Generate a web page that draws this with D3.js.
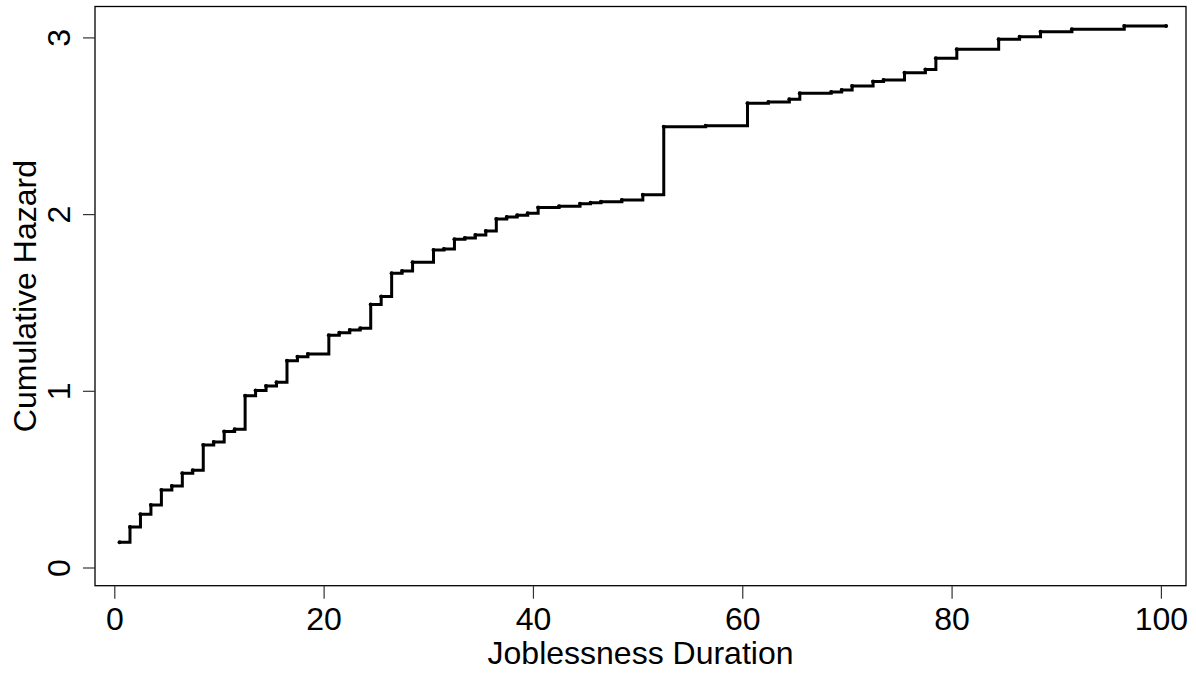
<!DOCTYPE html>
<html>
<head>
<meta charset="utf-8">
<script src="https://cdn.jsdelivr.net/npm/d3@7"></script>
<style>
  html, body { margin: 0; padding: 0; background: #fff; }
  svg { display: block; }
  text { font-family: "Liberation Sans", Arial, Helvetica, sans-serif; fill: #000; }
</style>
</head>
<body>
<svg id="chart" width="1196" height="673"></svg>
<script>
// Event times (weeks) and Nelson-Aalen cumulative hazard
const times = [0.5, 1.5, 2.5, 3.5, 4.5, 5.5, 6.5, 7.5, 8.5, 9.5, 10.5, 11.5, 12.5, 13.5, 14.5, 15.5,
  16.5, 17.5, 18.5, 20.5, 21.5, 22.5, 23.5, 24.5, 25.5, 26.5, 27.5, 28.5, 30.5, 31.5, 32.5, 33.5,
  34.5, 35.5, 36.5, 37.5, 38.5, 39.5, 40.5, 42.5, 44.5, 45.5, 46.5, 48.5, 50.5, 52.5, 56.5, 60.5,
  62.5, 64.5, 65.5, 68.5, 69.5, 70.5, 72.5, 73.5, 75.5, 77.5, 78.5, 80.5, 84.5, 86.5, 88.5, 91.5,
  96.5, 100.5];
const hazard = [0.143, 0.229, 0.301, 0.354, 0.439, 0.461, 0.533, 0.550, 0.693, 0.710, 0.769, 0.782,
  0.972, 1.002, 1.027, 1.048, 1.170, 1.193, 1.208, 1.314, 1.329, 1.344, 1.354, 1.489, 1.533, 1.665,
  1.678, 1.727, 1.797, 1.802, 1.857, 1.865, 1.882, 1.904, 1.972, 1.983, 1.994, 2.005, 2.038, 2.044,
  2.058, 2.064, 2.070, 2.080, 2.110, 2.495, 2.500, 2.627, 2.634, 2.650, 2.684, 2.691, 2.702, 2.725,
  2.751, 2.759, 2.800, 2.819, 2.882, 2.933, 2.989, 3.004, 3.032, 3.046, 3.065, 3.065];
const xTicks = [0, 20, 40, 60, 80, 100];
const yTicks = [0, 1, 2, 3];
const xLabel = "Joblessness Duration";
const yLabel = "Cumulative Hazard";

const data = times.map((t, i) => ({ t: t, h: hazard[i] }));

const svg = d3.select("#chart");
const box = { left: 95, top: 6.5, right: 1186, bottom: 585.7 };

const x = d3.scaleLinear().domain([0, 100]).range([114.3, 1160.9]);
const y = d3.scaleLinear().domain([0, 3]).range([567.5, 37.4]);

// plot frame
svg.append("rect")
  .attr("x", box.left).attr("y", box.top)
  .attr("width", box.right - box.left).attr("height", box.bottom - box.top)
  .attr("fill", "none").attr("stroke", "#000").attr("stroke-width", 1.3);

// x axis (R style, offset below the frame)
const xAxis = svg.append("g").attr("transform", `translate(0,${box.bottom})`)
  .call(d3.axisBottom(x).tickValues(xTicks).tickSize(13).tickPadding(9).tickFormat(d3.format("d")));
xAxis.select(".domain").remove();
xAxis.selectAll(".tick line").attr("stroke", "#333").attr("stroke-width", 1.2);
xAxis.selectAll(".tick text").attr("font-size", 32).attr("fill", "#000")
  .attr("font-family", "'Liberation Sans', Arial, Helvetica, sans-serif");

// y axis
const yAxis = svg.append("g").attr("transform", `translate(${box.left},0)`)
  .call(d3.axisLeft(y).tickValues(yTicks).tickSize(12).tickFormat(d3.format("d")));
yAxis.select(".domain").remove();
yAxis.selectAll(".tick line").attr("stroke", "#333").attr("stroke-width", 1.2);
yAxis.selectAll(".tick text")
  .attr("font-size", 32).attr("fill", "#000")
  .attr("font-family", "'Liberation Sans', Arial, Helvetica, sans-serif")
  .attr("x", null).attr("dy", null)
  .attr("text-anchor", "middle")
  .attr("transform", "translate(-25,0) rotate(-90)");

// axis titles
svg.append("text")
  .attr("x", (box.left + box.right) / 2).attr("y", 664)
  .attr("text-anchor", "middle").attr("font-size", 32)
  .text(xLabel);
svg.append("text")
  .attr("transform", `translate(36,${(box.top + box.bottom) / 2}) rotate(-90)`)
  .attr("text-anchor", "middle").attr("font-size", 32)
  .text(yLabel);

// step curve
const line = d3.line().x(d => x(d.t)).y(d => y(d.h)).curve(d3.curveStepAfter);
svg.append("path").datum(data)
  .attr("d", line)
  .attr("fill", "none").attr("stroke", "#000").attr("stroke-width", 3)
  .attr("stroke-linejoin", "miter").attr("stroke-linecap", "butt");

// small markers at each event
svg.append("g").selectAll("circle").data(data).join("circle")
  .attr("cx", d => x(d.t)).attr("cy", d => y(d.h)).attr("r", 2).attr("fill", "#000");
</script>
</body>
</html>
